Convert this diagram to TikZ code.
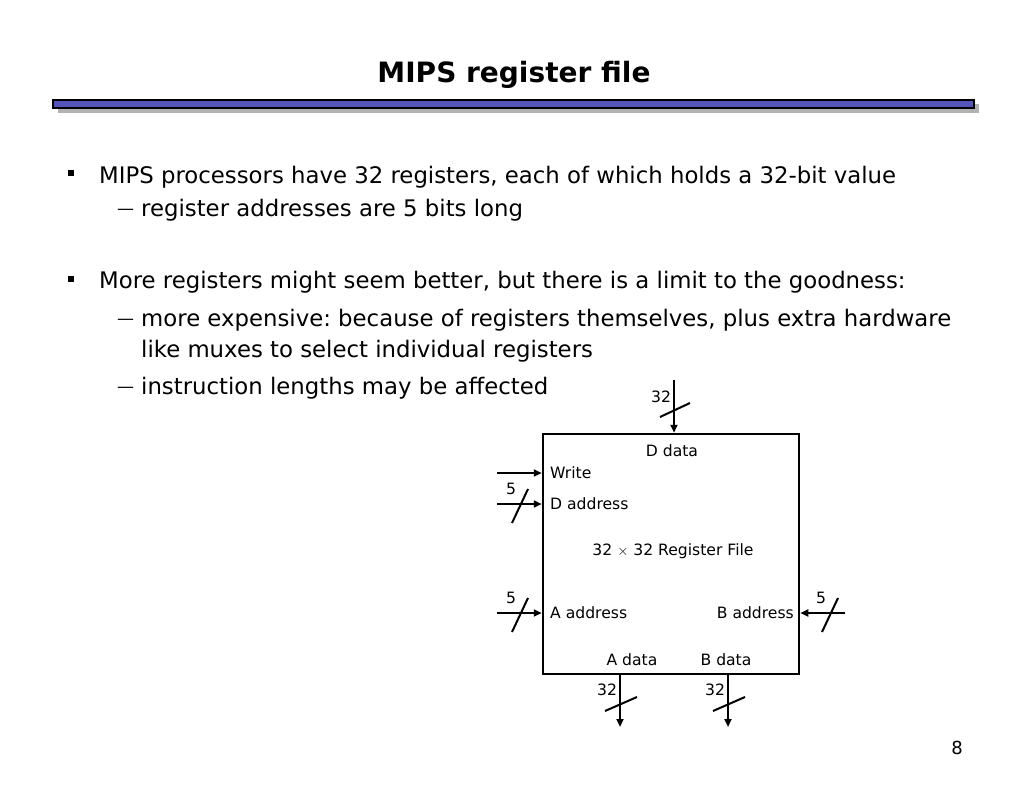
\documentclass[tikz,border=0pt]{standalone}
\usepackage{fontspec}
\setmainfont{DejaVu Sans}
\frenchspacing
\usetikzlibrary{arrows.meta,positioning}

\begin{document}
\begin{tikzpicture}[x=1pt,y=-1pt,>={Triangle[length=8pt,width=7pt]}]
  \tikzstyle{body}=[font=\fontsize{22.8}{26}\selectfont, anchor=base west, inner sep=0pt]
  \tikzstyle{dash mark}=[font=\fontsize{17}{20}\selectfont, anchor=base west, inner sep=0pt]
  \tikzstyle{lbl}=[font=\fontsize{15.6}{18}\selectfont, inner sep=0pt]
  \tikzstyle{wire}=[line width=2pt]
  \useasboundingbox (0,0) rectangle (1024,791);

  % title and bar
  \node[font=\bfseries\fontsize{28}{34}\selectfont] (title) at (514,75) {MIPS register file};
  \fill[black!30] (58,104) rectangle (979,113);
  \draw[line width=1.5pt, fill={rgb,255:red,85;green,85;blue,185}] (53,100) rectangle (974,108);

  % bullets
  \fill (68,170) rectangle (74,176);
  \node[body] (b1) at (99,184) {MIPS processors have 32 registers, each of which holds a 32-bit value};
  \node[dash mark] (d1) at (117,215) {—};
  \node[body] (s1) at (141,217) {register addresses are 5 bits long};
  \fill (68,276) rectangle (74,282);
  \node[body] (b2) at (99,289) {More registers might seem better, but there is a limit to the goodness:};
  \node[dash mark] (d2) at (117,324) {—};
  \node[body] (s2) at (141,326) {more expensive: because of registers themselves, plus extra hardware};
  \node[body] (s2b) at (141,357) {like muxes to select individual registers};
  \node[dash mark] (d3) at (117,392) {—};
  \node[body] (s3) at (141,394) {instruction lengths may be affected};

  % register file
  \node[draw, line width=2.5pt, minimum width=256pt, minimum height=240pt, inner sep=0pt] (rf) at (671,554) {};
  \node[lbl] (ddata) at (672,451) {D data};
  \node[lbl, anchor=west] (write) at (550,473) {Write};
  \node[lbl, anchor=west] (dadr) at (550,504) {D address};
  \node[lbl] (rfname) at (673,551) {32 $\times$ 32 Register File};
  \node[lbl, anchor=west] (aadr) at (550,613) {A address};
  \node[lbl, anchor=east] (badr) at (794,613) {B address};
  \node[lbl] (adata) at (632,660) {A data};
  \node[lbl] (bdata) at (726,660) {B data};

  % inputs
  \coordinate (din) at (674,380);
  \draw[wire,->] (din) -- (rf.north -| din);
  \draw[wire] (660,417) -- ++(30,-14);
  \node[lbl] (dw) at (661,397) {32};
  \coordinate (win) at (497,473);
  \draw[wire,->] (win) -- (rf.west |- win);
  \foreach \p/\y in {dadr/504, aadr/613} {
    \coordinate (\p in) at (497,\y);
    \draw[wire,->] (\p in) -- (rf.west |- \p in);
    \draw[wire] (512,\y+19) -- ++(16,-34);
    \node[lbl] at (511,\y-15) {5};
  }
  \coordinate (bin) at (845,613);
  \draw[wire,->] (bin) -- (rf.east |- bin);
  \draw[wire] (822,632) -- ++(16,-34);
  \node[lbl] (bw) at (821,598) {5};

  % outputs
  \foreach \x in {620,728} {
    \coordinate (out\x) at (\x,727);
    \draw[wire,->] (rf.south -| out\x) -- (out\x);
    \draw[wire] (\x-15,711) -- ++(32,-14);
    \node[lbl] at (\x-13,690) {32};
  }

  \node[font=\fontsize{18}{20}\selectfont] (page) at (957,748) {8};
\end{tikzpicture}
\end{document}
